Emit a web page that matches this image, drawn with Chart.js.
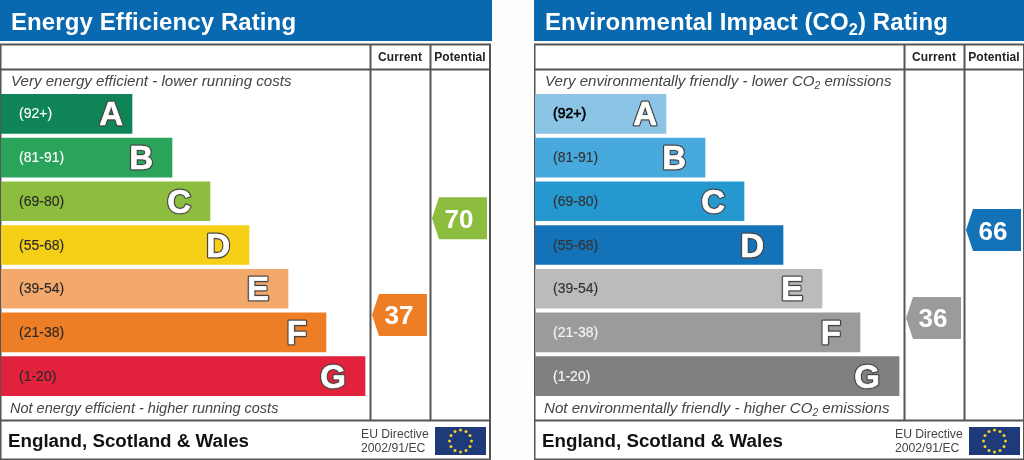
<!DOCTYPE html>
<html>
<head>
<meta charset="utf-8">
<title>EPC ratings</title>
<script src="https://cdn.jsdelivr.net/npm/chart.js@4"></script>
<style>
    html, body { margin: 0; padding: 0; background: #fdfdfc; overflow: hidden; }
    canvas { position: absolute; top: 0; }
    #energy { left: 0; }
    #co2 { left: 534px; }
</style>
</head>
<body>
<canvas id="energy" width="492" height="460"></canvas>
<canvas id="co2" width="490" height="460"></canvas>
<script>
const BANDS = ['A', 'B', 'C', 'D', 'E', 'F', 'G']
const RANGES = ['(92+)', '(81-91)', '(69-80)', '(55-68)', '(39-54)', '(21-38)', '(1-20)']
const BAND_MINS = [92, 81, 69, 55, 39, 21, 1]
const COLUMNS = ['Current', 'Potential']
const COLUMN_AT = [100, 115]

const ENERGY_LENGTHS = [33, 43, 52.5, 62.25, 72, 81.5, 91.25]
const ENERGY_COLORS = ['#0f8457', '#2aa45a', '#8dbd3f', '#f6cf17', '#f4a96c', '#ee7e26', '#e2213c']
const ENERGY_LABEL_COLORS = ['#fff', '#fff', '#2a2a2a', '#2a2a2a', '#2a2a2a', '#2a2a2a', '#2a2a2a']
const ENERGY_RATINGS = [37, 70]

const CO2_LENGTHS = [33, 42.75, 52.5, 62.25, 72, 81.5, 91.25]
const CO2_COLORS = ['#8cc4e6', '#47a9dc', '#2598d0', '#1472b9', '#bbbbb9', '#9b9b9b', '#808080']
const CO2_LABEL_COLORS = ['#000', '#333', '#333', '#333', '#333', '#f4f4f4', '#f4f4f4']
const CO2_RATINGS = [36, 66]

const LINE = '#555'
const BLUE = '#0868b0'
const SANS = '"Liberation Sans", Arial, sans-serif'

function text(ctx, str, x, y, font, color, align, spacing) {
    ctx.font = font
    ctx.fillStyle = color
    ctx.textAlign = align || 'left'
    ctx.textBaseline = 'alphabetic'
    ctx.letterSpacing = spacing || '0px'
    ctx.fillText(str, x, y)
    const w = ctx.measureText(str).width
    ctx.letterSpacing = '0px'
    return w
}

// text with a CO2 style subscript, parts is [before, sub, after]
function textSub(ctx, parts, x, y, size, style, color, spacing) {
    const font = `${style} ${size}px ${SANS}`
    const subFont = `${style} ${size * 0.68}px ${SANS}`
    x += text(ctx, parts[0], x, y, font, color, 'left', spacing)
    if (parts.length > 1) {
        x += text(ctx, parts[1], x, y + size * 0.2, subFont, color, 'left', spacing)
        text(ctx, parts[2], x, y, font, color, 'left', spacing)
    }
}

function drawFlag(ctx) {
    ctx.fillStyle = '#1f3a78'
    ctx.fillRect(435, 427, 51, 28)
    ctx.fillStyle = '#f2d21c'
    for (let i = 0; i < 12; i++) {
        const a = i * Math.PI / 6
        ctx.beginPath()
        ctx.arc(460.5 + 11 * Math.cos(a), 441 + 11 * Math.sin(a), 1.5, 0, Math.PI * 2)
        ctx.fill()
    }
}

const tablePlugin = {
    id: 'table',
    beforeDatasetsDraw(chart, args, opts) {
        const ctx = chart.ctx
        ctx.save()
        ctx.fillStyle = BLUE
        ctx.fillRect(0, 0, opts.width, 41)
        ctx.fillStyle = '#fff'
        ctx.fillRect(1, 45, 489, 414)
        ctx.strokeStyle = LINE
        ctx.lineWidth = 2
        ctx.strokeRect(0.5, 44.5, 489.5, 415)
        ctx.beginPath()
        ctx.moveTo(370.5, 44)
        ctx.lineTo(370.5, 420)
        ctx.moveTo(430.5, 44)
        ctx.lineTo(430.5, 420)
        ctx.moveTo(0, 69.5)
        ctx.lineTo(490, 69.5)
        ctx.moveTo(0, 420.5)
        ctx.lineTo(490, 420.5)
        ctx.stroke()
        ctx.restore()
    },
    afterDatasetsDraw(chart, args, opts) {
        const ctx = chart.ctx
        ctx.save()

        // header and captions
        textSub(ctx, opts.title, 11, 30, 24, 'bold', '#fff', '0.1px')
        COLUMNS.forEach((name, i) => {
            text(ctx, name, chart.scales.x.getPixelForValue(COLUMN_AT[i]), 61, `bold 12px ${SANS}`, '#222', 'center', '0.1px')
        })
        textSub(ctx, opts.top, 11, 86, opts.captionSizes[0], 'italic', '#444')
        textSub(ctx, opts.bottom, 10, 413, opts.captionSizes[1], 'italic', '#444')
        text(ctx, 'England, Scotland & Wales', 8, 447, `bold 18.75px ${SANS}`, '#111')
        text(ctx, 'EU Directive', 361, 438, `12.2px ${SANS}`, '#444')
        text(ctx, '2002/91/EC', 361, 452, `12.2px ${SANS}`, '#444')
        drawFlag(ctx)

        // band labels and letters
        chart.getDatasetMeta(0).data.forEach((bar, i) => {
            text(ctx, RANGES[i], 19, bar.y + 4.5, `14px ${SANS}`, opts.labelColors[i])
            ctx.lineWidth = opts.labelColors[i] === '#000' ? 0.6 : 0.15
            ctx.strokeStyle = opts.labelColors[i]
            ctx.strokeText(RANGES[i], 19, bar.y + 4.5)

            ctx.font = `bold 33px ${SANS}`
            ctx.textAlign = 'right'
            ctx.lineJoin = 'round'
            const right = bar.x - (i === 0 ? 9 : 19)
            ctx.lineWidth = 3
            ctx.strokeStyle = '#444'
            ctx.strokeText(BANDS[i], right, bar.y + 11.5)
            ctx.lineWidth = 0.6
            ctx.strokeStyle = '#fff'
            ctx.fillStyle = '#fff'
            ctx.strokeText(BANDS[i], right, bar.y + 11.5)
            ctx.fillText(BANDS[i], right, bar.y + 11.5)
        })

        // current and potential pointers
        chart.getDatasetMeta(1).data.forEach((pt, i) => {
            const rating = chart.data.datasets[1].data[i].y
            const band = BAND_MINS.findIndex(min => rating >= min)
            ctx.fillStyle = opts.colors[band]
            ctx.beginPath()
            ctx.moveTo(pt.x - 28, pt.y)
            ctx.lineTo(pt.x - 21, pt.y - 21)
            ctx.lineTo(pt.x + 27, pt.y - 21)
            ctx.lineTo(pt.x + 27, pt.y + 21)
            ctx.lineTo(pt.x - 21, pt.y + 21)
            ctx.closePath()
            ctx.fill()
            text(ctx, String(rating), pt.x - 1, pt.y + 9.5, `bold 26px ${SANS}`, '#fff', 'center')
        })
        ctx.restore()
    }
}

function drawPanel(id, lengths, colors, labelColors, ratings, title, top, bottom, captionSizes) {
    const canvas = document.querySelector(id)
    return new Chart(canvas.getContext('2d'), {
        type: 'bar',
        data: {
            labels: BANDS,
            datasets: [{
                indexAxis: 'y',
                data: lengths,
                backgroundColor: colors,
                borderWidth: 0,
                barThickness: 39
            }, {
                type: 'scatter',
                indexAxis: 'x',
                yAxisID: 'rating',
                data: ratings.map((r, i) => ({ x: COLUMN_AT[i], y: r })),
                pointRadius: 0,
                showLine: false
            }]
        },
        options: {
            indexAxis: 'x',
            responsive: false,
            animation: false,
            layout: { autoPadding: false, padding: { left: 1, right: canvas.width - 490, top: 92, bottom: 62 } },
            scales: {
                x: { type: 'linear', offset: false, bounds: 'data', min: 0.25, max: 122.5, display: false },
                y: { type: 'category', offset: true, display: false },
                rating: { axis: 'y', type: 'linear', offset: false, bounds: 'data', min: 8.67, max: 113.1, display: false }
            },
            plugins: {
                legend: { display: false },
                tooltip: { enabled: false },
                table: { width: canvas.width, colors, labelColors, title, top, bottom, captionSizes }
            }
        },
        plugins: [tablePlugin]
    })
}

drawPanel('#energy', ENERGY_LENGTHS, ENERGY_COLORS, ENERGY_LABEL_COLORS, ENERGY_RATINGS,
    ['Energy Efficiency Rating'],
    ['Very energy efficient - lower running costs'],
    ['Not energy efficient - higher running costs'],
    [15.1, 14.5])

drawPanel('#co2', CO2_LENGTHS, CO2_COLORS, CO2_LABEL_COLORS, CO2_RATINGS,
    ['Environmental Impact (CO', '2', ') Rating'],
    ['Very environmentally friendly - lower CO', '2', ' emissions'],
    ['Not environmentally friendly - higher CO', '2', ' emissions'],
    [15.1, 15.1])
</script>
</body>
</html>
